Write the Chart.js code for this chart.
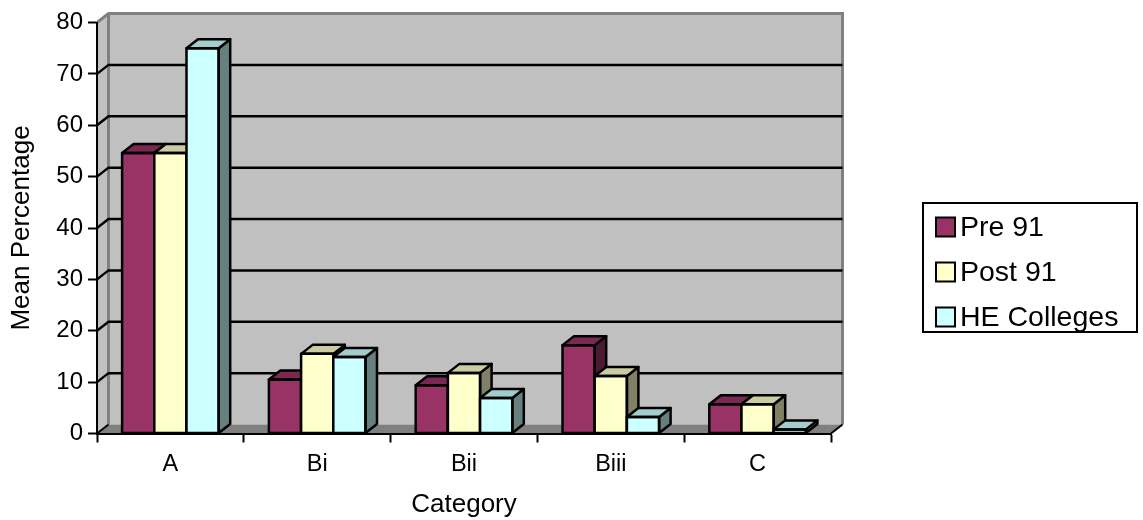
<!DOCTYPE html>
<html>
<head>
<meta charset="utf-8">
<title>Mean Percentage by Category</title>
<script src="https://cdn.jsdelivr.net/npm/chart.js@4.4.1/dist/chart.umd.min.js"></script>
<style>
  html, body { margin: 0; padding: 0; background: #ffffff; }
  #wrap { width: 1143px; height: 520px; }
</style>
</head>
<body>
<div id="wrap"><canvas id="chart" width="1143" height="520"></canvas></div>
<script>
// ---- data ----
const categories = ['A', 'Bi', 'Bii', 'Biii', 'C'];
const seriesNames = ['Pre 91', 'Post 91', 'HE Colleges'];
const pre91 = [54.6, 10.5, 9.4, 17.2, 5.7];
const post91 = [54.6, 15.5, 11.8, 11.2, 5.7];
const heColleges = [75.0, 14.9, 6.9, 3.2, 0.8];
const yTicks = [0, 10, 20, 30, 40, 50, 60, 70, 80];

// ---- styles ----
const frontColors = [[153, 51, 102], [255, 255, 204], [204, 255, 255]];
const FONT = '"Liberation Sans", Arial, sans-serif';
const WALL = '#c0c0c0';
const FLOOR = '#808080';
const EDGE = '#808080';
const DX = 11.5;   // depth offset of the 3D box, horizontal
const DY = -9;     // depth offset of the 3D box, vertical

function rgb(c, k) {
  return 'rgb(' + c.map(v => Math.round(v * k)).join(',') + ')';
}

function poly(ctx, pts) {
  ctx.beginPath();
  ctx.moveTo(pts[0][0], pts[0][1]);
  for (let i = 1; i < pts.length; i++) ctx.lineTo(pts[i][0], pts[i][1]);
  ctx.closePath();
}

// back wall, side wall, floor and gridlines behind the bars
const wallPlugin = {
  id: 'wall3d',
  beforeDraw(chart) {
    const { ctx, chartArea: a, scales: { y } } = chart;
    ctx.save();
    ctx.fillStyle = WALL;
    ctx.fillRect(a.left + DX, a.top + DY, a.right - a.left, a.bottom - a.top);
    poly(ctx, [[a.left, a.top], [a.left + DX, a.top + DY], [a.left + DX, a.bottom + DY], [a.left, a.bottom]]);
    ctx.fill();
    ctx.fillStyle = FLOOR;
    poly(ctx, [[a.left, a.bottom], [a.right, a.bottom], [a.right + DX, a.bottom + DY], [a.left + DX, a.bottom + DY]]);
    ctx.fill();

    // wall edges
    ctx.strokeStyle = EDGE;
    ctx.lineWidth = 3;
    ctx.beginPath();
    ctx.moveTo(a.left, a.top);
    ctx.lineTo(a.left + DX, a.top + DY);
    ctx.lineTo(a.right + DX, a.top + DY);
    ctx.lineTo(a.right + DX, a.bottom + DY);
    ctx.moveTo(a.left + DX, a.top + DY);
    ctx.lineTo(a.left + DX, a.bottom + DY);
    ctx.stroke();

    // gridlines
    ctx.strokeStyle = '#000000';
    ctx.lineWidth = 2.5;
    y.ticks.forEach(t => {
      if (t.value <= y.min || t.value >= y.max) return;
      const py = y.getPixelForValue(t.value);
      ctx.beginPath();
      ctx.moveTo(a.left, py);
      ctx.lineTo(a.left + DX, py + DY);
      ctx.lineTo(a.right + DX, py + DY);
      ctx.stroke();
    });
    // floor side edges
    ctx.lineWidth = 2;
    ctx.beginPath();
    ctx.moveTo(a.left, a.bottom);
    ctx.lineTo(a.left + DX, a.bottom + DY);
    ctx.moveTo(a.right, a.bottom);
    ctx.lineTo(a.right + DX, a.bottom + DY);
    ctx.stroke();
    ctx.restore();
  }
};

// 3D boxes: each cluster painted left to right so that a bar's front face
// hides the side face of its left neighbour
const boxPlugin = {
  id: 'box3d',
  afterDatasetsDraw(chart) {
    const { ctx } = chart;
    const metas = chart.data.datasets.map((d, i) => chart.getDatasetMeta(i));
    ctx.save();
    ctx.strokeStyle = '#000000';
    ctx.lineWidth = 2.5;
    ctx.lineJoin = 'round';
    categories.forEach((cat, j) => {
      metas.forEach((meta, i) => {
        const bar = meta.data[j];
        if (!bar) return;
        const c = frontColors[i];
        const p = bar.getProps(['x', 'y', 'base', 'width'], true);
        const l = p.x - p.width / 2, r = p.x + p.width / 2;
        const top = Math.min(p.y, p.base), bottom = Math.max(p.y, p.base);
        // front
        ctx.fillStyle = rgb(c, 1);
        ctx.fillRect(l, top, r - l, bottom - top);
        // side
        poly(ctx, [[r, top], [r + DX, top + DY], [r + DX, bottom + DY], [r, bottom]]);
        ctx.fillStyle = rgb(c, 0.5);
        ctx.fill();
        ctx.stroke();
        // top
        poly(ctx, [[l, top], [l + DX, top + DY], [r + DX, top + DY], [r, top]]);
        ctx.fillStyle = rgb(c, 0.8);
        ctx.fill();
        ctx.stroke();
        // front outline
        ctx.strokeRect(l, top, r - l, bottom - top);
      });
    });
    ctx.restore();
  }
};

// boxed legend on the right
const legendPlugin = {
  id: 'boxLegend',
  afterDraw(chart) {
    const { ctx } = chart;
    const box = { x: 923, y: 203, w: 214, h: 129 };
    ctx.save();
    ctx.fillStyle = '#ffffff';
    ctx.fillRect(box.x, box.y, box.w, box.h);
    ctx.strokeStyle = '#000000';
    ctx.lineWidth = 2;
    ctx.strokeRect(box.x, box.y, box.w, box.h);
    ctx.font = '28.5px ' + FONT;
    ctx.textBaseline = 'middle';
    ctx.textAlign = 'left';
    chart.data.datasets.forEach((ds, i) => {
      const cy = box.y + 24 + i * 45;
      ctx.fillStyle = ds.backgroundColor;
      ctx.fillRect(box.x + 13, cy - 9.5, 19, 19);
      ctx.strokeRect(box.x + 13, cy - 9.5, 19, 19);
      ctx.fillStyle = '#000000';
      ctx.fillText(ds.label, box.x + 37, cy + 1);
    });
    ctx.restore();
  }
};

const values = [pre91, post91, heColleges];
const datasets = seriesNames.map((name, i) => ({
  label: name,
  data: values[i],
  backgroundColor: rgb(frontColors[i], 1),
  borderWidth: 0,
  barPercentage: 1.0,
  categoryPercentage: 0.658
}));

new Chart(document.getElementById('chart'), {
  type: 'bar',
  data: { labels: categories, datasets },
  plugins: [wallPlugin, boxPlugin, legendPlugin],
  options: {
    responsive: false,
    animation: false,
    devicePixelRatio: 1,
    layout: { padding: { top: 22.5, right: 312, bottom: 0, left: 0 } },
    plugins: { legend: { display: false }, tooltip: { enabled: false } },
    scales: {
      x: {
        grid: { offset: true, drawOnChartArea: false, tickLength: 9, tickWidth: 2, tickColor: '#000000' },
        border: { color: '#000000', width: 2 },
        ticks: { color: '#000000', font: { family: FONT, size: 23.5 }, padding: 8 },
        title: { display: true, text: 'Category', color: '#000000', font: { family: FONT, size: 26 }, padding: { top: 0, bottom: 0 } },
        afterFit(s) { s.height = 86.5; }
      },
      y: {
        min: 0,
        max: 80,
        afterBuildTicks(s) { s.ticks = yTicks.map(v => ({ value: v })); },
        grid: { drawOnChartArea: false, tickLength: 9, tickWidth: 2, tickColor: '#000000' },
        border: { color: '#000000', width: 2 },
        ticks: { color: '#000000', font: { family: FONT, size: 24 }, padding: 5 },
        title: { display: true, text: 'Mean Percentage', color: '#000000', font: { family: FONT, size: 26 }, padding: { top: 6, bottom: 0 } },
        afterFit(s) { s.width = 97; }
      }
    }
  }
});
</script>
</body>
</html>
